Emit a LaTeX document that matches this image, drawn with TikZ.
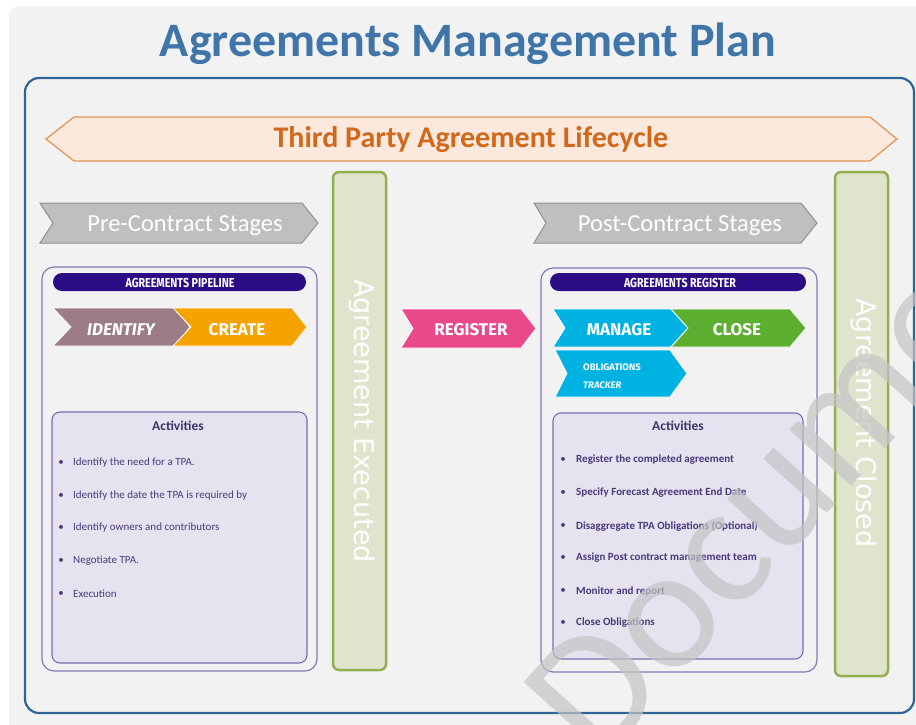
\documentclass[tikz,border=0pt]{standalone}
\usepackage{fontspec}
\setmainfont{Carlito}
\newfontfamily\barfont{DejaVu Sans}
\newfontfamily\tagfont{Fira Sans}
\definecolor{pagebg}{HTML}{F2F2F2}
\definecolor{titleblue}{HTML}{3F75A8}
\definecolor{frameblue}{HTML}{2E6596}
\definecolor{lcfill}{HTML}{FCE8DC}
\definecolor{lcdraw}{HTML}{E3924F}
\definecolor{lctext}{HTML}{D0691C}
\definecolor{stagefill}{HTML}{BFBFBF}
\definecolor{stagedraw}{HTML}{8F8F8F}
\definecolor{barfill}{HTML}{DEE5CC}
\definecolor{bardraw}{HTML}{92B052}
\definecolor{panelline}{HTML}{8678B4}
\definecolor{hdrfill}{HTML}{2B0C84}
\definecolor{identc}{HTML}{9C7C86}
\definecolor{createc}{HTML}{F5A300}
\definecolor{registc}{HTML}{E9488A}
\definecolor{managec}{HTML}{00B2E2}
\definecolor{closec}{HTML}{5CAF31}
\definecolor{actfill}{HTML}{E6E2EF}
\definecolor{actdraw}{HTML}{7B6DAE}
\definecolor{acttext}{HTML}{4A3A7C}
\definecolor{acthead}{HTML}{3E3368}
\definecolor{wmark}{HTML}{C4C4C4}
% chevron: x1, x2, ytop, ybot, tip depth, notch depth, style
\newcommand{\chev}[7]{\path[#7] (#1,#3) -- ({#2-#5},#3) -- (#2,{(#3+#4)/2}) -- ({#2-#5},#4) -- (#1,#4) -- ({#1+#6},{(#3+#4)/2}) -- cycle;}
\tikzset{
  titletext/.style={font=\bfseries\fontsize{48}{48}\selectfont, text=titleblue, inner sep=0pt, anchor=base},
  lctxt/.style={font=\bfseries\fontsize{30}{30}\selectfont, text=lctext, inner sep=0pt, anchor=base},
  stagetxt/.style={font=\fontsize{24.5}{24.5}\selectfont, text=white, inner sep=0pt, anchor=base},
  bartxt/.style={font=\barfont\fontsize{27}{27}\selectfont, text=white, inner sep=0pt, rotate=-90},
  barbox/.style={fill=barfill, draw=bardraw, line width=2.5pt, rounded corners=6pt},
  panelbox/.style={fill=pagebg, draw=panelline, line width=1.2pt, rounded corners=12pt},
  hdrbox/.style={fill=hdrfill, rounded corners=9pt},
  hdrtxt/.style={font=\tagfont\bfseries\fontsize{13}{13}\selectfont, text=white, inner sep=0pt, anchor=base},
  tagtxt/.style={font=\tagfont\bfseries\fontsize{17}{17}\selectfont, text=white, inner sep=0pt, anchor=base},
  smalltag/.style={font=\tagfont\bfseries\fontsize{9.5}{9.5}\selectfont, text=white, inner sep=0pt, anchor=base west},
  actbox/.style={fill=actfill, draw=actdraw, line width=1.1pt, rounded corners=8pt},
  acthd/.style={font=\bfseries\fontsize{13.5}{13.5}\selectfont, text=acthead, inner sep=0pt},
  actitemL/.style={font=\fontsize{11}{11}\selectfont, text=acttext, inner sep=0pt, anchor=west},
  actitemR/.style={font=\bfseries\fontsize{11}{11}\selectfont, text=acttext, inner sep=0pt, anchor=west},
  bul/.style={font=\fontsize{11}{11}\selectfont, text=acttext, inner sep=0pt},
  wmtext/.style={font=\fontsize{175}{175}\selectfont, text=wmark, opacity=0.7, inner sep=0pt, anchor=base west, rotate=48},
}
\begin{document}
\begin{tikzpicture}[x=1pt,y=-1pt]
\useasboundingbox (0,0) rectangle (916,724);
\fill[white] (0,0) rectangle (916,724);
\fill[pagebg, rounded corners=10pt] (9,6) rectangle (940,750);
% title
\node[titletext] (title) at (468,56) {Agreements Management Plan};
% outer frame
\draw[frameblue, line width=2.2pt, rounded corners=14pt] (25,78) rectangle (914,713);
% lifecycle double arrow
\path[fill=lcfill, draw=lcdraw, line width=1.2pt] (46,139) -- (74,117) -- (870,117) -- (897,139) -- (870,161) -- (74,161) -- cycle;
\node[lctxt] (lifecycle) at (471,147) {Third Party Agreement Lifecycle};
% stage chevrons
\chev{40}{318}{203}{243}{16}{13}{fill=stagefill, draw=stagedraw, line width=1pt}
\node[stagetxt] (pre) at (185,231) {Pre-Contract Stages};
\chev{534}{817}{203}{243}{16}{12}{fill=stagefill, draw=stagedraw, line width=1pt}
\node[stagetxt] (post) at (680,231) {Post-Contract Stages};
% green bars
\draw[barbox] (333,172) rectangle (386,670);
\node[bartxt] (executed) at (362,421) {Agreement Executed};
\draw[barbox] (835,172) rectangle (888,676);
\node[bartxt] (closed) at (864,423) {Agreement Closed};
% panels
\draw[panelbox] (42,267) rectangle (317,671);
\draw[panelbox] (541,268) rectangle (817,672);
\fill[hdrbox] (53,273) rectangle (306,291);
\node[hdrtxt] (pipeline) at (180,287) {\scalebox{0.82}[1]{AGREEMENTS PIPELINE}};
\fill[hdrbox] (550,273) rectangle (806,291);
\node[hdrtxt] (registerhdr) at (680,287) {\scalebox{0.82}[1]{AGREEMENTS REGISTER}};
% process chevrons
\chev{53}{190}{308}{346}{15}{18}{fill=identc, draw=white, line width=0.8pt}
\chev{173}{307}{308}{346}{15}{18}{fill=createc, draw=white, line width=0.8pt}
\node[tagtxt] (identify) at (121,335) {\itshape IDENTIFY};
\node[tagtxt] (create) at (237,335) {CREATE};
\chev{401}{536}{309}{348}{15}{12}{fill=registc, draw=white, line width=0.8pt}
\node[tagtxt] (register) at (471,335) {REGISTER};
\chev{553}{688}{309}{347}{17}{12}{fill=managec, draw=white, line width=0.8pt}
\chev{671}{806}{309}{347}{16}{17}{fill=closec, draw=white, line width=0.8pt}
\node[tagtxt] (manage) at (619,335) {MANAGE};
\node[tagtxt] (close) at (737,335) {CLOSE};
\chev{555}{687}{350}{397}{17}{12}{fill=managec, draw=white, line width=0.8pt}
\node[smalltag] (oblig1) at (583,370) {OBLIGATIONS};
\node[smalltag] (oblig2) at (583,388) {\itshape TRACKER};
% activities left
\draw[actbox] (52,412) rectangle (307,663);
\node[acthd] (acthdL) at (178,426) {Activities};
\foreach \y/\t [count=\i] in {463/{Identify the need for a TPA.},496/{Identify the date the TPA is required by},528/{Identify owners and contributors},561/{Negotiate TPA.},594/{Execution}}{
  \node[bul] (bL\i) at (61,\y) {\textbullet};
  \node[actitemL] (iL\i) at (73,\y) {\t};
}
% activities right
\draw[actbox] (553,413) rectangle (803,659);
\node[acthd] (acthdR) at (678,426) {Activities};
\foreach \y/\t [count=\i] in {460/{Register the completed agreement},493/{Specify Forecast Agreement End Date},526/{Disaggregate TPA Obligations (Optional)},558/{Assign Post contract management team},591/{Monitor and report},623/{Close Obligations}}{
  \node[bul] (bR\i) at (563,\y) {\textbullet};
  \node[actitemR] (iR\i) at (576,\y) {\t};
}
% watermark
\begin{scope}
\clip (0,0) rectangle (916,724);
\node[wmtext] (wm) at (599,767) {Document};
\end{scope}
\end{tikzpicture}
\end{document}
